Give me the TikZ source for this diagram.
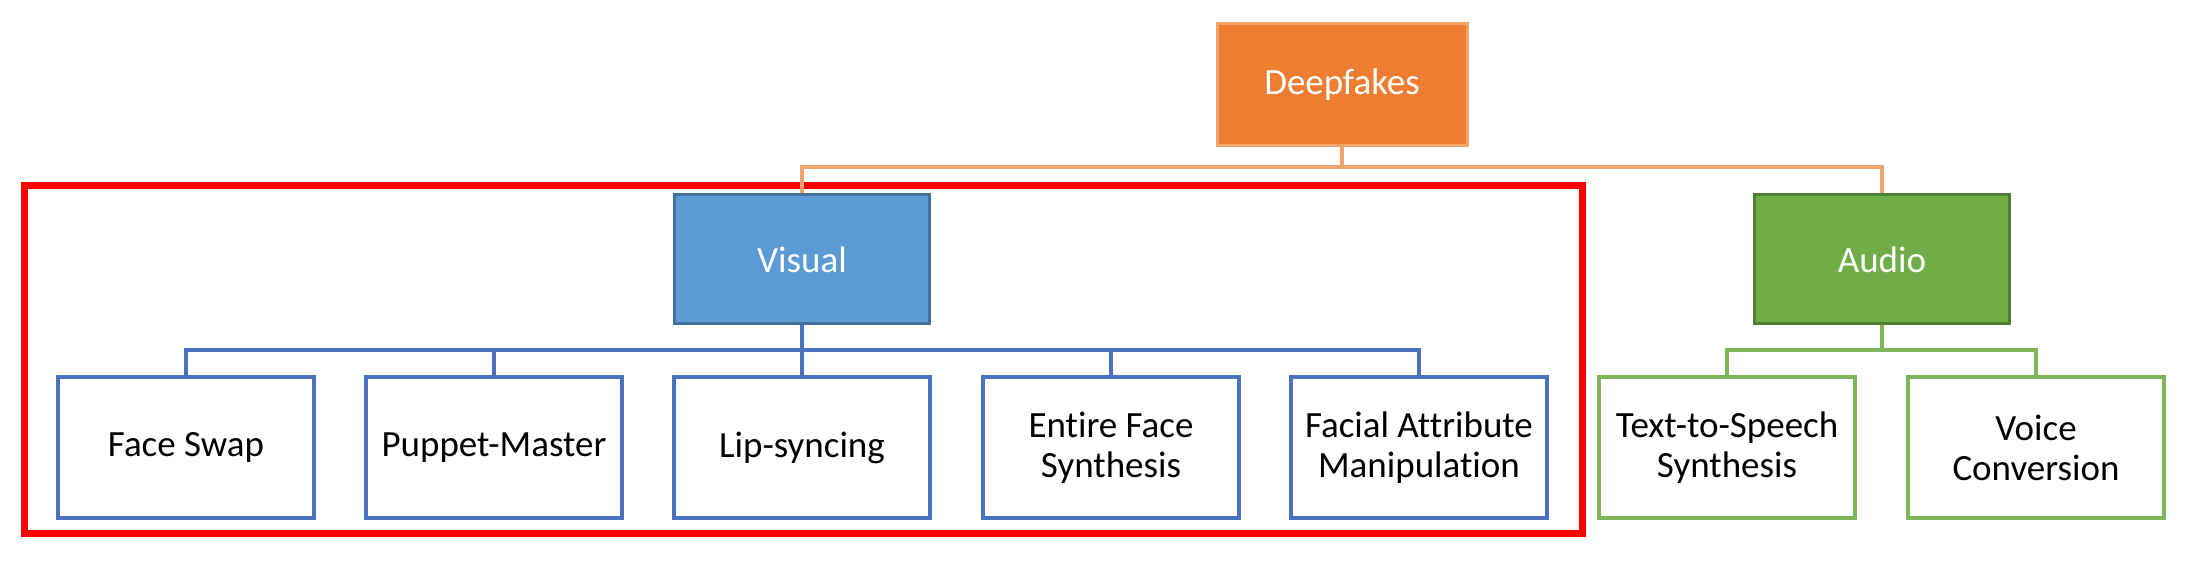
\documentclass[tikz,border=0pt]{standalone}
\usepackage{fontspec}
\setmainfont{Carlito}[Ligatures=NoCommon]
\definecolor{orfill}{HTML}{ED7D31}
\definecolor{orline}{HTML}{F2A46C}
\definecolor{blfill}{HTML}{5B9BD5}
\definecolor{bldraw}{HTML}{41719C}
\definecolor{blline}{HTML}{4A72BE}
\definecolor{grfill}{HTML}{70AD47}
\definecolor{grdraw}{HTML}{507E32}
\definecolor{grline}{HTML}{7DB55A}
\definecolor{hilite}{HTML}{FF0000}
\tikzset{
  txt/.style={font=\fontsize{18.5}{20}\selectfont, align=center, inner sep=0pt},
  topbox/.style={txt, text=white, line width=1.5pt, minimum width=127.5pt, minimum height=64.5pt},
  childbox/.style={txt, text=black, fill=white, line width=1.7pt, minimum width=128pt, minimum height=70.5pt},
  bluechild/.style={childbox, draw=blline},
  greenchild/.style={childbox, draw=grline},
  oconn/.style={draw=orline, line width=1.6pt},
  bconn/.style={draw=blline, line width=1.6pt},
  gconn/.style={draw=grline, line width=1.6pt},
}
\begin{document}
\begin{tikzpicture}[x=0.5pt,y=-0.5pt]
\useasboundingbox (0,0) rectangle (2188,581);
% highlight frame
\draw[hilite, line width=3.5pt] (24,186) rectangle (1582,534);
% top
\node[topbox, fill=orfill, draw=orline, minimum width=125pt, minimum height=61pt] (deep) at (1342,85) {Deepfakes};
\node[topbox, fill=blfill, draw=bldraw] (vis) at (802,259.5) {Visual};
\node[topbox, fill=grfill, draw=grdraw] (aud) at (1882,259.5) {Audio};
% children visual
\node[bluechild] (c1) at (186,447.5) {Face Swap};
\node[bluechild] (c2) at (494,447.5) {Puppet-Master};
\node[bluechild] (c3) at (802,447.5) {Lip-syncing};
\node[bluechild] (c4) at (1111,447.5) {Entire Face\\Synthesis};
\node[bluechild] (c5) at (1419,447.5) {Facial Attribute\\Manipulation};
% children audio
\node[greenchild] (a1) at (1727,447.5) {Text-to-Speech\\Synthesis};
\node[greenchild] (a2) at (2036,447.5) {Voice\\Conversion};
% buses
\coordinate (obus) at (1342,167);
\coordinate (vbus) at (802,350);
\coordinate (abus) at (1882,350);
% orange connectors
\draw[oconn] (deep.south) -- (obus);
\draw[oconn] (vis.north) |- (obus) -| (aud.north);
% blue connectors
\draw[bconn] (vis.south) -- (vbus);
\draw[bconn] (c1.north) |- (vbus) -| (c5.north);
\draw[bconn] (c2.north) -- (c2.north |- vbus);
\draw[bconn] (c3.north) -- (vbus);
\draw[bconn] (c4.north) -- (c4.north |- vbus);
% green connectors
\draw[gconn] (aud.south) -- (abus);
\draw[gconn] (a1.north) |- (abus) -| (a2.north);
\end{tikzpicture}
\end{document}
